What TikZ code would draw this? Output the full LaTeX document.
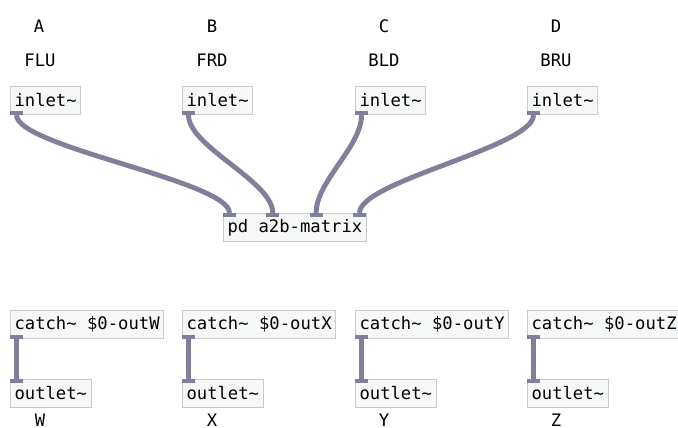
\documentclass[tikz,border=0pt]{standalone}
\usepackage{fontspec}
\setmonofont{DejaVu Sans Mono}
\usetikzlibrary{positioning}
\definecolor{cable}{HTML}{80809A}
\definecolor{boxline}{HTML}{CACACA}
\definecolor{boxfill}{HTML}{F6F7F7}
\tikzstyle{every node}=[font=\ttfamily\fontsize{9.8}{11.8}\selectfont, text=black]
\tikzstyle{obj}=[draw=boxline, fill=boxfill, rectangle, line width=0.6pt, minimum height=0.56cm, inner xsep=0.08cm, inner ysep=0pt, anchor=north west]
\tikzstyle{note}=[inner sep=0.5pt]
\tikzstyle{cord}=[draw=cable, line width=2.8pt]
\tikzstyle{tab}=[fill=cable]
\newcommand{\sig}{\textasciitilde}

\begin{document}
\begin{tikzpicture}[x=0.02cm, y=-0.02cm]
            \useasboundingbox (0,0) rectangle (678,428);
            % objects
            \node[obj] (in1) at (10,86) {inlet\sig};
            \node[obj] (in2) at (182,86) {inlet\sig};
            \node[obj] (in3) at (355,86) {inlet\sig};
            \node[obj] (in4) at (527,86) {inlet\sig};
            \node[obj] (mat) at (223,213) {pd a2b-matrix};
            \node[obj] (cw) at (10,310) {catch\sig{} \$0-outW};
            \node[obj] (cx) at (182,310) {catch\sig{} \$0-outX};
            \node[obj] (cy) at (355,310) {catch\sig{} \$0-outY};
            \node[obj] (cz) at (527,310) {catch\sig{} \$0-outZ};
            \node[obj] (ow) at (10,379) {outlet\sig};
            \node[obj] (ox) at (182,379) {outlet\sig};
            \node[obj] (oy) at (355,379) {outlet\sig};
            \node[obj] (oz) at (527,379) {outlet\sig};
            % comments
            \node[note] (la) at (39,26) {A};
            \node[note] (lb) at (212,26) {B};
            \node[note] (lc) at (384,26) {C};
            \node[note] (ld) at (556,26) {D};
            \node[note] (fa) at (40,60) {FLU};
            \node[note] (fb) at (212,60) {FRD};
            \node[note] (fc) at (384,60) {BLD};
            \node[note] (fd) at (556,60) {BRU};
            \node[note] (lw) at (40,420) {W};
            \node[note] (lx) at (212,420) {X};
            \node[note] (ly) at (384,420) {Y};
            \node[note] (lz) at (556,420) {Z};
            % cords
            \coordinate (s1) at ([xshift=0.13cm]in1.south west);
            \coordinate (s2) at ([xshift=0.13cm]in2.south west);
            \coordinate (s3) at ([xshift=0.13cm]in3.south west);
            \coordinate (s4) at ([xshift=0.13cm]in4.south west);
            \coordinate (t1) at ([xshift=0.13cm]mat.north west);
            \coordinate (t2) at ([xshift=0.996cm]mat.north west);
            \coordinate (t3) at ([xshift=1.863cm]mat.north west);
            \coordinate (t4) at ([xshift=2.73cm]mat.north west);
            \draw[cord] (s1) .. controls +(0,32) and +(0,-32) .. (t1);
            \draw[cord] (s2) .. controls +(0,32) and +(0,-32) .. (t2);
            \draw[cord] (s3) .. controls +(0,32) and +(0,-32) .. (t3);
            \draw[cord] (s4) .. controls +(0,32) and +(0,-32) .. (t4);
            \draw[cord] ([xshift=0.13cm]cw.south west) -- ([xshift=0.13cm]ow.north west);
            \draw[cord] ([xshift=0.13cm]cx.south west) -- ([xshift=0.13cm]ox.north west);
            \draw[cord] ([xshift=0.13cm]cy.south west) -- ([xshift=0.13cm]oy.north west);
            \draw[cord] ([xshift=0.13cm]cz.south west) -- ([xshift=0.13cm]oz.north west);
            % tabs
            \fill[tab] (in1.south west) rectangle +(13,-4);
            \fill[tab] (in2.south west) rectangle +(13,-4);
            \fill[tab] (in3.south west) rectangle +(13,-4);
            \fill[tab] (in4.south west) rectangle +(13,-4);
            \fill[tab] (mat.north west) rectangle +(13,4);
            \fill[tab] ([xshift=0.866cm]mat.north west) rectangle +(13,4);
            \fill[tab] ([xshift=1.733cm]mat.north west) rectangle +(13,4);
            \fill[tab] ([xshift=2.6cm]mat.north west) rectangle +(13,4);
            \fill[tab] (cw.south west) rectangle +(13,-4);
            \fill[tab] (cx.south west) rectangle +(13,-4);
            \fill[tab] (cy.south west) rectangle +(13,-4);
            \fill[tab] (cz.south west) rectangle +(13,-4);
            \fill[tab] (ow.north west) rectangle +(13,4);
            \fill[tab] (ox.north west) rectangle +(13,4);
            \fill[tab] (oy.north west) rectangle +(13,4);
            \fill[tab] (oz.north west) rectangle +(13,4);
        \end{tikzpicture}
\end{document}
